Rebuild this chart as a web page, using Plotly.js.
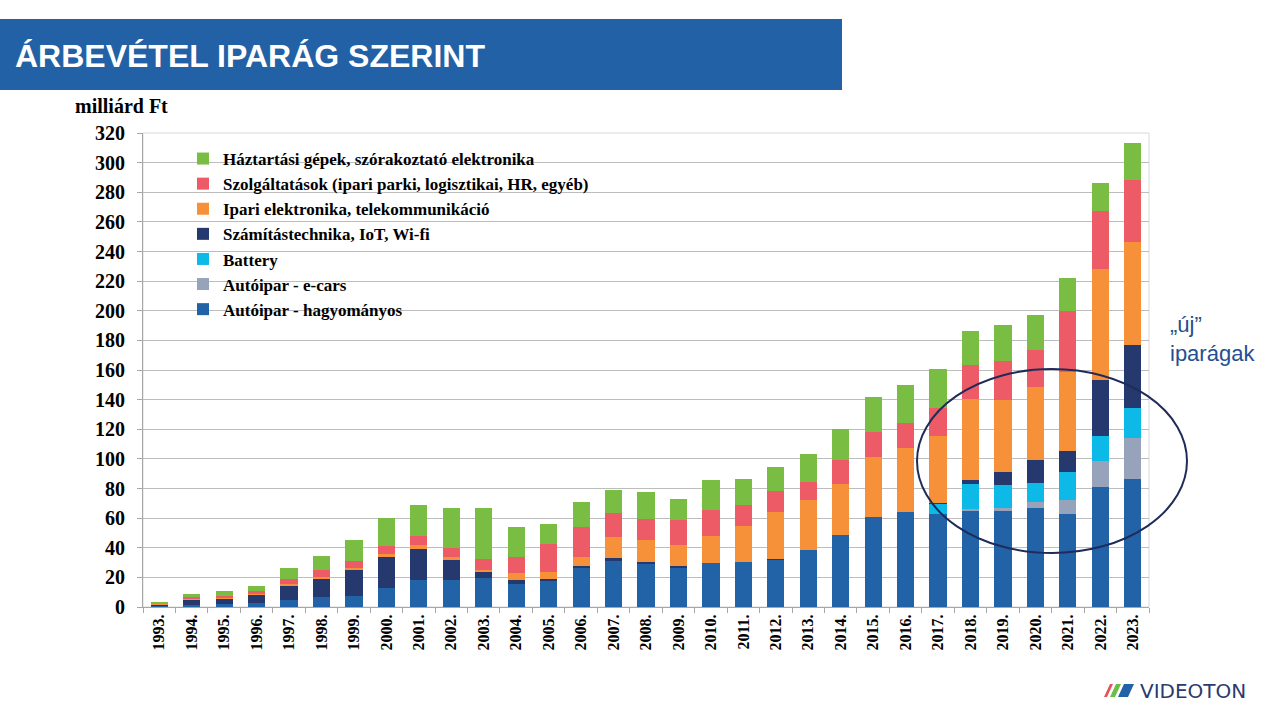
<!DOCTYPE html>
<html>
<head>
<meta charset="utf-8">
<script src="https://cdn.plot.ly/plotly-3.0.1.min.js"></script>
<style>
html,body{margin:0;padding:0;background:#fff;}
#chart{width:1280px;height:720px;}
</style>
</head>
<body>
<div id="chart"></div>
<script>
// ---- data (milliárd Ft) ----
const years = ['1993.','1994.','1995.','1996.','1997.','1998.','1999.','2000.','2001.','2002.','2003.','2004.','2005.','2006.','2007.','2008.','2009.','2010.','2011.','2012.','2013.','2014.','2015.','2016.','2017.','2018.','2019.','2020.','2021.','2022.','2023.'];

const autoHagyomanyos = [0.5,1.1,1.8,2.7,5.0,6.5,7.2,12.6,18.2,18.0,19.6,15.3,18.2,26.3,31.3,29.7,27.0,29.5,30.4,32.2,38.3,48.5,60.9,64.3,62.5,64.7,64.7,66.7,62.7,80.7,86.6];
const autoEcars       = [0,0,0,0,0,0,0,0,0,0,0,0,0,0,0,0,0,0,0,0,0,0,0,0,0,1.4,2.3,4.1,9.5,17.8,27.5];
const battery         = [0,0,0,0,0,0,0,0,0,0,0,0,0,0,0,0,0,0,0,0,0,0,0,0,7.4,16.9,15.3,12.9,18.9,16.9,20.3];
const szamitastechnika= [1.5,3.8,4.0,5.4,9.2,12.2,17.6,21.0,21.2,13.7,4.7,2.9,0.7,1.6,1.6,0.7,0.5,0,0,0.4,0,0,0,0,0.4,2.9,8.8,15.6,14.2,37.9,42.6];
const ipariElektronika= [0.1,0.2,0.4,0.7,1.1,1.35,1.35,2.0,2.7,1.8,0.9,4.7,4.7,5.9,14.2,14.6,14.6,18.2,24.1,31.3,33.8,34.5,40.4,42.8,45.1,54.6,48.5,49.4,53.2,75.1,69.7];
const szolgaltatasok  = [0.3,1.35,0.9,1.8,3.8,4.7,5.2,5.6,5.6,6.1,7.2,10.6,18.7,20.3,16.2,14.2,16.4,17.6,14.2,14.4,12.4,16.2,16.7,16.9,19.2,22.6,26.6,25.0,41.0,38.8,41.9];
const haztartasi      = [0.7,2.25,3.6,3.8,7.4,9.5,14.2,18.7,21.0,27.5,34.7,20.5,13.5,16.7,16.0,18.2,14.6,20.3,17.8,16.0,18.9,21.0,23.9,25.9,26.2,23.2,24.4,23.5,22.8,19.2,24.4];

const seriesNames = ['Autóipar - hagyományos','Autóipar - e-cars','Battery','Számítástechnika, IoT, Wi-fi','Ipari elektronika, telekommunikáció','Szolgáltatások (ipari parki, logisztikai, HR, egyéb)','Háztartási gépek, szórakoztató elektronika'];
const seriesValues = [autoHagyomanyos, autoEcars, battery, szamitastechnika, ipariElektronika, szolgaltatasok, haztartasi];
const seriesColors = ['#2262A6','#97A3BA','#0CB9E7','#25396E','#F69039','#EC5B66','#79BE43'];

// ---- layout geometry helpers (pixel -> paper) ----
const M = {l:143, r:131, t:133, b:113};
const PW = 1280 - M.l - M.r, PH = 720 - M.t - M.b;
const px = v => (v - M.l) / PW;
const py = v => (720 - M.b - v) / PH;

const serif = 'Liberation Serif, Times New Roman, serif';
const sans = 'Liberation Sans, Arial, sans-serif';

const traces = seriesNames.map((n, i) => ({
  type: 'bar',
  name: n,
  x: years,
  y: seriesValues[i],
  marker: {color: seriesColors[i], line: {width: 0}},
  hoverinfo: 'x+y+name'
}));

const stripe = (x0, w, col) => ({
  type: 'path', xref: 'paper', yref: 'paper', layer: 'above',
  path: `M ${px(x0)} ${py(697)} L ${px(x0 + w)} ${py(697)} L ${px(x0 + w + 6)} ${py(684)} L ${px(x0 + 6)} ${py(684)} Z`,
  fillcolor: col, line: {width: 0}
});

const layout = {
  width: 1280, height: 720,
  margin: M,
  paper_bgcolor: '#ffffff',
  plot_bgcolor: '#ffffff',
  barmode: 'stack',
  bargap: 0.47,
  showlegend: true,
  title: {
    text: '<b>ÁRBEVÉTEL IPARÁG SZERINT</b>',
    xref: 'container', yref: 'container',
    x: 15/1280, xanchor: 'left',
    y: 1 - 56/720, yanchor: 'middle',
    font: {family: sans, size: 32, color: '#ffffff'}
  },
  legend: {
    x: px(183), y: py(141), xanchor: 'left', yanchor: 'top',
    traceorder: 'reversed',
    bgcolor: 'rgba(0,0,0,0)',
    font: {family: serif, size: 17, color: '#000000', weight: 'bold'}
  },
  xaxis: {
    type: 'category',
    tickangle: -90,
    tickfont: {family: serif, size: 16, color: '#000000', weight: 'bold'},
    showline: true, linecolor: '#A6A6A6', linewidth: 1,
    ticks: 'outside', tickson: 'boundaries', ticklen: 5, tickcolor: '#A6A6A6',
    showgrid: false,
    fixedrange: true
  },
  yaxis: {
    range: [0, 320], dtick: 20,
    tickfont: {family: serif, size: 20, color: '#000000', weight: 'bold'},
    showline: true, linecolor: '#A6A6A6', linewidth: 1,
    ticks: 'outside', ticklen: 5, tickcolor: '#A6A6A6',
    ticklabelstandoff: 8,
    showgrid: true, gridcolor: '#BDBDBD', gridwidth: 1,
    zeroline: false,
    fixedrange: true
  },
  shapes: [
    {type: 'rect', xref: 'paper', yref: 'paper', layer: 'below',
     x0: px(0), x1: px(842), y0: py(90), y1: py(19),
     fillcolor: '#2261A5', line: {width: 0}},
    {type: 'rect', xref: 'paper', yref: 'paper', layer: 'below',
     x0: 0, x1: 1, y0: 0, y1: 1, line: {color: '#D9D9D9', width: 1}},
    {type: 'circle', xref: 'paper', yref: 'paper', layer: 'above',
     x0: px(917), x1: px(1187), y0: py(553), y1: py(369),
     line: {color: '#1F2B58', width: 2}},
    stripe(1104, 3, '#E8505B'),
    stripe(1110, 5, '#6DBE45'),
    stripe(1118, 10, '#2262A6')
  ],
  annotations: [
    {text: '<b>milliárd Ft</b>', xref: 'paper', yref: 'paper',
     x: px(121), y: py(106), xanchor: 'center', yanchor: 'middle', showarrow: false,
     font: {family: serif, size: 20, color: '#000000'}},
    {text: '„új”<br>iparágak', xref: 'paper', yref: 'paper',
     x: px(1168), y: py(339), xanchor: 'left', yanchor: 'middle', align: 'left', showarrow: false,
     font: {family: sans, size: 22, color: '#24508F'}},
    {text: 'VIDEOTON', xref: 'paper', yref: 'paper',
     x: px(1138), y: py(691), xanchor: 'left', yanchor: 'middle', showarrow: false,
     font: {family: 'DejaVu Sans, sans-serif', size: 20, color: '#2B3A70'}}
  ]
};

Plotly.newPlot('chart', traces, layout, {displayModeBar: false, responsive: false});
</script>
</body>
</html>
